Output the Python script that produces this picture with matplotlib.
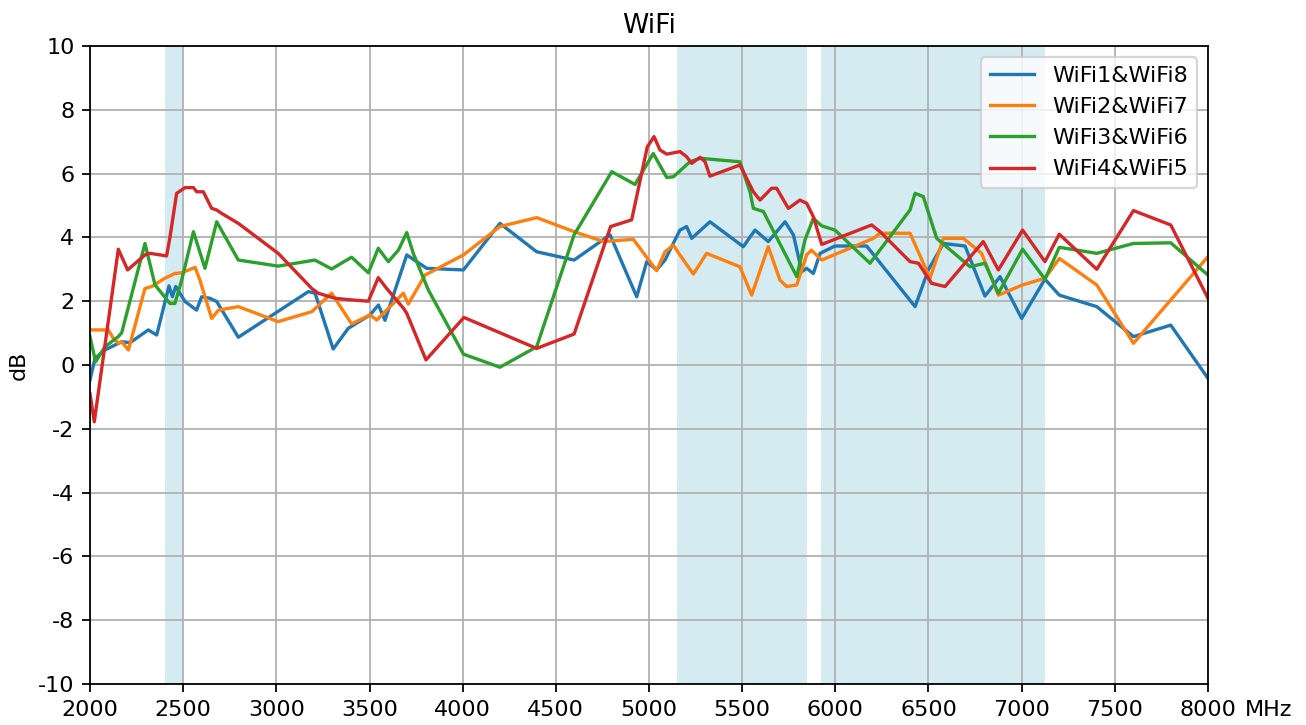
import matplotlib
matplotlib.use("Agg")
import matplotlib.pyplot as plt

plt.rcParams["axes.unicode_minus"] = False

# ---- data ----
freq_18 = [2000, 2027, 2080, 2170, 2215, 2313, 2358, 2424, 2442, 2460, 2510, 2572, 2599, 2644, 2680,
           2796, 3172, 3208, 3305, 3386, 3503, 3548, 3583, 3700, 3807, 4004, 4200, 4397, 4598, 4791,
           4934, 4988, 5041, 5086, 5166, 5202, 5229, 5327, 5506, 5569, 5640, 5730, 5775, 5820, 5846,
           5882, 5918, 5998, 6168, 6428, 6499, 6580, 6696, 6803, 6884, 7000, 7125, 7202, 7403, 7600,
           7800, 8000]
db_18 = [-0.47, 0.21, 0.47, 0.73, 0.70, 1.10, 0.94, 2.48, 2.14, 2.46, 1.99, 1.72, 2.14, 2.09, 1.99,
         0.87, 2.30, 2.25, 0.50, 1.15, 1.57, 1.88, 1.40, 3.45, 3.03, 2.98, 4.44, 3.55, 3.29, 4.08,
         2.14, 3.24, 2.98, 3.29, 4.23, 4.34, 3.97, 4.49, 3.71, 4.23, 3.87, 4.49, 4.08, 2.93, 3.03,
         2.87, 3.50, 3.73, 3.73, 1.83, 2.98, 3.81, 3.73, 2.16, 2.77, 1.46, 2.69, 2.19, 1.83, 0.89,
         1.25, -0.42]

freq_27 = [2000, 2018, 2098, 2125, 2152, 2170, 2206, 2295, 2331, 2402, 2456, 2492, 2564, 2590, 2653,
           2689, 2796, 3010, 3190, 3297, 3404, 3503, 3539, 3592, 3682, 3708, 3798, 4004, 4200, 4397,
           4598, 4755, 4916, 5005, 5041, 5086, 5131, 5166, 5238, 5309, 5488, 5551, 5640, 5703, 5739,
           5793, 5846, 5872, 5927, 6204, 6240, 6401, 6508, 6580, 6687, 6785, 6875, 7005, 7125, 7202,
           7403, 7600, 8000]
db_27 = [1.10, 1.10, 1.10, 0.84, 0.68, 0.73, 0.47, 2.40, 2.46, 2.72, 2.87, 2.89, 3.06, 2.66, 1.46,
         1.72, 1.83, 1.36, 1.67, 2.25, 1.29, 1.57, 1.41, 1.72, 2.25, 1.91, 2.82, 3.45, 4.34, 4.62,
         4.18, 3.87, 3.94, 3.24, 2.96, 3.55, 3.76, 3.45, 2.85, 3.50, 3.08, 2.19, 3.71, 2.66, 2.46,
         2.51, 3.45, 3.60, 3.29, 3.97, 4.13, 4.13, 2.72, 3.97, 3.97, 3.50, 2.19, 2.51, 2.72, 3.34,
         2.51, 0.68, 3.40]

freq_36 = [2000, 2030, 2080, 2152, 2170, 2295, 2349, 2429, 2456, 2492, 2555, 2617, 2680, 2796, 3010,
           3207, 3297, 3404, 3494, 3547, 3601, 3655, 3700, 3735, 3816, 4004, 4200, 4397, 4598, 4800,
           4925, 5023, 5095, 5131, 5220, 5274, 5488, 5542, 5560, 5614, 5793, 5837, 5882, 5927, 5998,
           6186, 6401, 6428, 6472, 6544, 6723, 6803, 6875, 7005, 7125, 7202, 7403, 7600, 7800, 8000]
db_36 = [0.89, 0.10, 0.57, 0.89, 1.01, 3.81, 2.51, 1.93, 1.93, 2.66, 4.18, 3.03, 4.49, 3.29, 3.10,
         3.29, 3.01, 3.38, 2.89, 3.66, 3.24, 3.60, 4.15, 3.50, 2.35, 0.34, -0.07, 0.57, 4.08, 6.06,
         5.66, 6.63, 5.88, 5.90, 6.37, 6.48, 6.37, 5.43, 4.91, 4.81, 2.77, 3.92, 4.60, 4.36, 4.23,
         3.19, 4.86, 5.38, 5.28, 3.97, 3.08, 3.19, 2.25, 3.63, 2.69, 3.69, 3.50, 3.81, 3.83, 2.82]

freq_45 = [2000, 2023, 2152, 2202, 2295, 2322, 2411, 2429, 2465, 2510, 2555, 2573, 2608, 2653, 2680,
           2707, 2796, 3010, 3190, 3225, 3315, 3404, 3494, 3547, 3592, 3682, 3700, 3803, 4007, 4397,
           4598, 4794, 4907, 4991, 5027, 5059, 5095, 5166, 5202, 5229, 5274, 5301, 5327, 5488, 5560,
           5596, 5658, 5685, 5748, 5810, 5846, 5882, 5927, 6195, 6240, 6401, 6446, 6517, 6589, 6794,
           6875, 7005, 7125, 7202, 7403, 7600, 7800, 8000]
db_45 = [-0.90, -1.78, 3.63, 2.98, 3.45, 3.50, 3.42, 4.00, 5.38, 5.56, 5.56, 5.43, 5.43, 4.91, 4.86,
         4.75, 4.44, 3.50, 2.40, 2.25, 2.09, 2.04, 2.00, 2.74, 2.40, 1.78, 1.62, 0.16, 1.49, 0.52,
         0.97, 4.34, 4.55, 6.84, 7.16, 6.74, 6.61, 6.69, 6.53, 6.32, 6.51, 6.37, 5.92, 6.27, 5.43,
         5.17, 5.54, 5.54, 4.91, 5.17, 5.07, 4.65, 3.78, 4.39, 4.18, 3.24, 3.19, 2.56, 2.46, 3.87,
         2.98, 4.23, 3.24, 4.10, 3.00, 4.84, 4.39, 2.09]

series_labels = ["WiFi1&WiFi8", "WiFi2&WiFi7", "WiFi3&WiFi6", "WiFi4&WiFi5"]
bands = [(2400, 2500), (5150, 5850), (5925, 7125)]
x_ticks = [2000, 2500, 3000, 3500, 4000, 4500, 5000, 5500, 6000, 6500, 7000, 7500, 8000]
y_ticks = [-10, -8, -6, -4, -2, 0, 2, 4, 6, 8, 10]

# ---- figure ----
DPI = 160
fig = plt.figure(figsize=(1306 / DPI, 725 / DPI), dpi=DPI)
ax = fig.add_axes([90 / 1306, 1 - 684 / 725, (1208 - 90) / 1306, (684 - 46) / 725])

for lo, hi in bands:
    ax.axvspan(lo, hi, color="lightblue", alpha=0.5, lw=0)

for (fx, fy), lab in zip([(freq_18, db_18), (freq_27, db_27), (freq_36, db_36), (freq_45, db_45)],
                         series_labels):
    ax.plot(fx, fy, label=lab, lw=1.5)

ax.set_xlim(2000, 8000)
ax.set_ylim(-10, 10)
ax.set_xticks(x_ticks)
ax.set_yticks(y_ticks)
ax.grid(True)
ax.set_title("WiFi")
ax.set_ylabel("dB")
ax.annotate("MHz", xy=(1.033, 0), xycoords="axes fraction", xytext=(0, -7),
            textcoords="offset points", ha="left", va="top")
ax.legend(loc="upper right")

fig.savefig("out.png", dpi=DPI)
